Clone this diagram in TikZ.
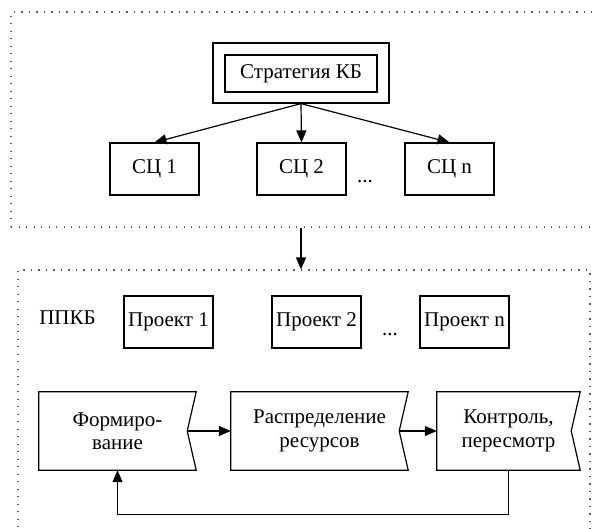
\documentclass[tikz,border=0pt]{standalone}
\usepackage{fontspec}
\setmainfont{Liberation Serif}
\usetikzlibrary{arrows.meta, positioning}

% outline of a stage: straight left side, notch on the right side
\newcommand{\notchbox}[1]{%
  \draw[line] (#1.north west) -- (#1.north east) -- ([xshift=-9pt]#1.east)
    -- (#1.south east) -- (#1.south west) -- cycle;}

\begin{document}
\begin{tikzpicture}[
    x=1pt, y=-1pt,
    region/.style={rectangle, draw=black!65, line width=1.2pt, dash pattern=on 1.2pt off 6.3pt, inner sep=0pt},
    box/.style={rectangle, draw=black, line width=1.2pt, inner sep=2pt, font=\fontsize{21}{24}\selectfont},
    stage/.style={rectangle, align=center, inner sep=0pt, minimum height=78pt, font=\fontsize{21}{23.5}\selectfont},
    plain/.style={inner sep=0pt, font=\fontsize{21}{24}\selectfont},
    arrow/.style={-{Triangle[length=12pt,width=10pt]}, line width=1.2pt},
    line/.style={line width=1.2pt}
]
\useasboundingbox (0,0) rectangle (592,528);

% dotted regions
\node[region, minimum width=592pt, minimum height=215pt] (topreg) at (307,119.5) {};
\node[region, minimum width=572pt, minimum height=280pt] (botreg) at (304,410) {};

% strategy
\node[box, minimum width=176pt, minimum height=60pt] (stratouter) at (301,73) {};
\node[box, minimum width=152pt, minimum height=37pt] (strat) at (301,73.5) {Стратегия КБ};

% strategic goals
\node[box, minimum width=89pt, minimum height=52pt] (sc1) at (154.5,169) {СЦ 1};
\node[box, minimum width=89pt, minimum height=52pt] (sc2) at (301.5,169) {СЦ 2};
\node[box, minimum width=89pt, minimum height=52pt] (scn) at (449.5,169) {СЦ n};
\node[plain, anchor=base] (scdots) at (365,182) {...};

\draw[arrow] (stratouter.south) -- (sc1.north);
\draw[arrow] (stratouter.south) -- (sc2.north);
\draw[arrow] (stratouter.south) -- (scn.north);

\draw[arrow] (stratouter |- topreg.south) -- (stratouter |- botreg.north);

% portfolio
\node[plain, anchor=base] (ppkb) at (67.5,324) {ППКБ};
\node[box, minimum width=89pt, minimum height=52pt] (pr1) at (168.5,322) {Проект 1};
\node[box, minimum width=89pt, minimum height=52pt] (pr2) at (316.5,322) {Проект 2};
\node[box, minimum width=89pt, minimum height=52pt] (prn) at (464.5,322) {Проект n};
\node[plain, anchor=base] (prdots) at (390,335) {...};

% stages
\node[stage, minimum width=157pt] (form) at (117.5,431) {Формиро-\\вание};
\node[stage, minimum width=177pt] (distr) at (319.5,431) {Распределение\\ресурсов};
\node[stage, minimum width=143pt] (ctrl) at (508.5,431) {Контроль,\\пересмотр};
\notchbox{form}
\notchbox{distr}
\notchbox{ctrl}

\draw[arrow] ([xshift=-9pt]form.east) -- (distr.west);
\draw[arrow] ([xshift=-9pt]distr.east) -- (ctrl.west);
\draw[arrow] (ctrl.south) -- ++(0,44) -| (form.south);

\end{tikzpicture}
\end{document}
